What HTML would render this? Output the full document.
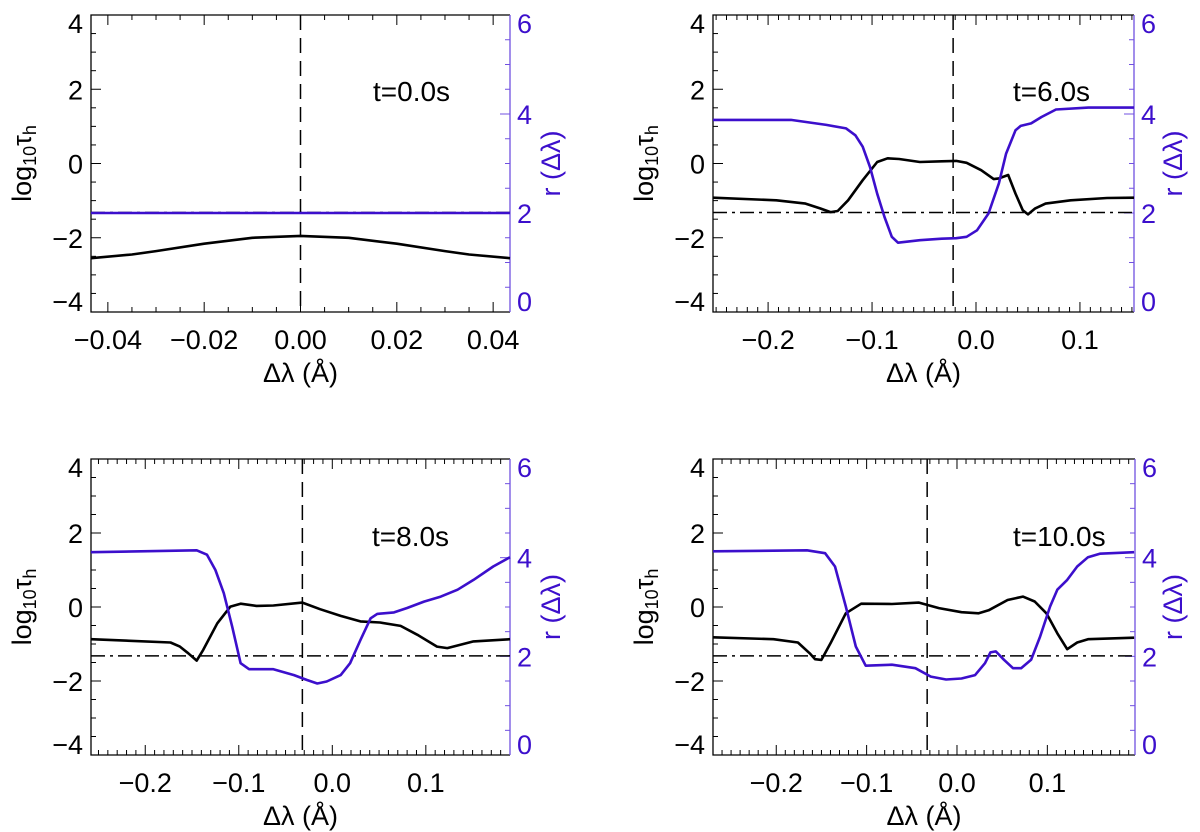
<!DOCTYPE html>
<html><head><meta charset="utf-8"><style>
html,body{margin:0;padding:0;background:#fff;}
svg{display:block;font-family:"Liberation Sans",sans-serif;}
</style></head><body>
<svg id="fig" width="1200" height="832" viewBox="0 0 1200 832"></svg>
<script>
const NS="http://www.w3.org/2000/svg";
const PURPLE="#3c0fcc";
// Panel 1 (t=0.0s)
const p1X=[-0.0435,-0.035,-0.03,-0.02,-0.01,0,0.01,0.02,0.03,0.035,0.0435];
const p1Tau=[-2.55,-2.45,-2.36,-2.16,-2.0,-1.95,-2.0,-2.16,-2.36,-2.45,-2.55];
const p1RX=[-0.0435,0.0435];
const p1R=[2.0,2.0];
// Panel 2 (t=6.0s)
const p2X=[-0.253,-0.192,-0.164,-0.150,-0.140,-0.133,-0.123,-0.109,-0.095,-0.085,-0.074,-0.054,-0.033,-0.019,-0.009,0.005,0.017,0.022,0.031,0.038,0.045,0.050,0.057,0.067,0.091,0.126,0.152];
const p2Tau=[-0.92,-0.99,-1.08,-1.21,-1.31,-1.28,-0.99,-0.45,0.04,0.14,0.12,0.04,0.06,0.07,0.02,-0.18,-0.42,-0.40,-0.31,-0.81,-1.26,-1.37,-1.21,-1.08,-0.99,-0.93,-0.92];
const p2RX=[-0.253,-0.178,-0.144,-0.125,-0.116,-0.109,-0.102,-0.095,-0.088,-0.081,-0.075,-0.054,-0.033,-0.019,-0.009,0.001,0.012,0.022,0.029,0.038,0.043,0.053,0.063,0.077,0.108,0.152];
const p2R=[3.88,3.88,3.78,3.71,3.57,3.34,2.93,2.39,1.92,1.52,1.40,1.45,1.48,1.49,1.52,1.65,1.99,2.60,3.20,3.67,3.76,3.81,3.94,4.09,4.13,4.13];
// Panel 3 (t=8.0s)
const p3X=[-0.258,-0.173,-0.163,-0.154,-0.145,-0.138,-0.123,-0.109,-0.098,-0.081,-0.063,-0.032,-0.013,0.009,0.030,0.051,0.073,0.091,0.112,0.123,0.137,0.151,0.190];
const p3Tau=[-0.87,-0.96,-1.07,-1.25,-1.45,-1.16,-0.44,0.01,0.09,0.03,0.04,0.12,-0.06,-0.24,-0.39,-0.42,-0.51,-0.75,-1.07,-1.11,-1.02,-0.93,-0.87];
const p3RX=[-0.258,-0.145,-0.134,-0.125,-0.116,-0.107,-0.098,-0.089,-0.063,-0.041,-0.027,-0.016,-0.006,0.009,0.019,0.030,0.041,0.048,0.066,0.080,0.098,0.116,0.134,0.151,0.172,0.190];
const p3R=[4.11,4.15,4.06,3.75,3.28,2.60,1.86,1.74,1.74,1.62,1.52,1.45,1.49,1.62,1.86,2.33,2.77,2.86,2.89,2.98,3.11,3.21,3.35,3.55,3.82,4.01];
// Panel 4 (t=10.0s)
const p4X=[-0.270,-0.203,-0.176,-0.163,-0.157,-0.150,-0.140,-0.123,-0.106,-0.072,-0.042,-0.020,0.005,0.024,0.035,0.056,0.073,0.086,0.099,0.111,0.122,0.133,0.145,0.196];
const p4Tau=[-0.82,-0.87,-0.96,-1.25,-1.41,-1.43,-0.98,-0.17,0.09,0.08,0.12,-0.03,-0.14,-0.17,-0.09,0.19,0.28,0.15,-0.17,-0.71,-1.14,-0.96,-0.87,-0.83];
const p4RX=[-0.270,-0.166,-0.146,-0.135,-0.123,-0.112,-0.101,-0.072,-0.046,-0.029,-0.012,0.005,0.020,0.031,0.037,0.043,0.052,0.062,0.071,0.082,0.092,0.103,0.111,0.122,0.133,0.145,0.158,0.196];
const p4R=[4.13,4.15,4.09,3.82,3.01,2.20,1.81,1.83,1.76,1.59,1.53,1.55,1.62,1.86,2.08,2.10,1.93,1.76,1.76,1.93,2.40,3.01,3.35,3.55,3.82,4.01,4.08,4.11];
const xTicks1=[-0.04,-0.02,0,0.02,0.04];
const xTickLabels1=["\u22120.04","\u22120.02","0.00","0.02","0.04"];
const xTicks2=[-0.2,-0.1,0,0.1];
const xTickLabels2=["\u22120.2","\u22120.1","0.0","0.1"];
const yTicks=[-4,-2,0,2,4];
const yTickLabels=["\u22124","\u22122","0","2","4"];
const rTicks=[0,2,4,6];
const rTickLabels=["0","2","4","6"];
const thresholdLevel=-1.32;

const panels=[
 {id:"t0",L:91,R:510,T:15,B:312,xmin:-0.0435,xmax:0.0435,minor:0.005,xt:xTicks1,xl:xTickLabels1,vline:0,label:"t=0.0s",lx:373,ly:101,x:p1X,tau:p1Tau,rx:p1RX,r:p1R,rt:560},
 {id:"t6",L:713,R:1134,T:15,B:312,xmin:-0.253,xmax:0.152,minor:0.01,xt:xTicks2,xl:xTickLabels2,vline:-0.022,label:"t=6.0s",lx:1013,ly:101,x:p2X,tau:p2Tau,rx:p2RX,r:p2R,rt:1182},
 {id:"t8",L:91,R:510,T:459,B:755,xmin:-0.258,xmax:0.190,minor:0.01,xt:xTicks2,xl:xTickLabels2,vline:-0.032,label:"t=8.0s",lx:372,ly:546,x:p3X,tau:p3Tau,rx:p3RX,r:p3R,rt:560},
 {id:"t10",L:713,R:1135,T:459,B:755,xmin:-0.270,xmax:0.197,minor:0.01,xt:xTicks2,xl:xTickLabels2,vline:-0.033,label:"t=10.0s",lx:1013,ly:546,x:p4X,tau:p4Tau,rx:p4RX,r:p4R,rt:1182}
];
const svg=document.getElementById("fig");
function mk(tag,attrs,parent){const e=document.createElementNS(NS,tag);for(const k in attrs)e.setAttribute(k,attrs[k]);(parent||svg).appendChild(e);return e;}

panels.forEach(p=>{
  const g=mk("g",{});
  
  
  const sx=v=>p.L+(v-p.xmin)/(p.xmax-p.xmin)*(p.R-p.L);
  const sy=v=>p.T+(4-v)/8*(p.B-p.T);
  const sr=v=>p.B-v/6*(p.B-p.T);
  const n0=Math.ceil(p.xmin/p.minor-1e-6), n1=Math.floor(p.xmax/p.minor+1e-6);
  for(let i=n0;i<=n1;i++){const v=i*p.minor;const X=sx(v);
    const major=p.xt.some(t=>Math.abs(t-v)<1e-9);const len=major?10:5;
    const t1=mk("line",{x1:X,x2:X,y1:p.B,y2:p.B-len,stroke:"#000","stroke-width":1},g);
    
    
    const t2=mk("line",{x1:X,x2:X,y1:p.T,y2:p.T+len,stroke:"#000","stroke-width":1},g);
    
    }
  p.xt.forEach((v,i)=>{const t=mk("text",{x:sx(v),y:p.B+37,"font-size":27,"text-anchor":"middle"},g);t.textContent=p.xl[i];
    
    });
  for(let v=-4;v<=4.001;v+=0.5){const Y=sy(v);const len=(Math.abs(v%2)<1e-6)?10:5;
    const t=mk("line",{x1:p.L,x2:p.L+len,y1:Y,y2:Y,stroke:"#000","stroke-width":1},g);
    
    }
  yTicks.forEach((v,i)=>{let Y=sy(v)+10;if(v===4)Y=p.T+18;if(v===-4)Y=p.B-1;
    const t=mk("text",{x:p.L-8,y:Y,"font-size":27,"text-anchor":"end"},g);t.textContent=yTickLabels[i];
    
    });
  for(let v=0;v<=6.001;v+=0.5){const Y=sr(v);const len=(Math.abs(v%2)<1e-6)?10:5;
    const t=mk("line",{x1:p.R,x2:p.R-len,y1:Y,y2:Y,stroke:"#7050e0","stroke-width":1},g);
    
    }
  rTicks.forEach((v,i)=>{let Y=sr(v)+10;if(v===6)Y=p.T+18;if(v===0)Y=p.B-1;
    const t=mk("text",{x:p.R+7,y:Y,"font-size":27,fill:PURPLE},g);t.textContent=rTickLabels[i];
    
    });
  const ax=mk("path",{d:`M${p.R},${p.T}H${p.L}V${p.B}H${p.R}`,fill:"none",stroke:"#000","stroke-width":1.3},g);
  
  
  const ra=mk("line",{x1:p.R,x2:p.R,y1:p.T,y2:p.B,stroke:"#7050e0","stroke-width":1.3},g);
  
  
  const vl=mk("line",{x1:sx(p.vline),x2:sx(p.vline),y1:p.T,y2:p.B,stroke:"#000","stroke-width":1.5,"stroke-dasharray":"15,8"},g);
  
  
  const hl=mk("line",{x1:p.L,x2:p.R,y1:sy(thresholdLevel),y2:sy(thresholdLevel),stroke:"#000","stroke-width":1.5,"stroke-dasharray":"14,5,3,5"},g);
  
  
  const tauPts=p.x.map((v,i)=>sx(v).toFixed(1)+","+sy(p.tau[i]).toFixed(1)).join(" ");
  const tl=mk("polyline",{points:tauPts,fill:"none",stroke:"#000","stroke-width":2.6,"stroke-linejoin":"round"},g);
  
  
  const rPts=p.rx.map((v,i)=>sx(v).toFixed(1)+","+sr(p.r[i]).toFixed(1)).join(" ");
  const rl=mk("polyline",{points:rPts,fill:"none",stroke:PURPLE,"stroke-width":2.6,"stroke-linejoin":"round"},g);
  
  
  const lb=mk("text",{x:p.lx,y:p.ly,"font-size":28},g);lb.textContent=p.label;
  
  
  const cy=(p.T+p.B)/2, cx=(p.L+p.R)/2;
  const xt=mk("text",{x:cx,y:p.B+70,"font-size":27,"text-anchor":"middle"},g);xt.textContent="\u0394\u03bb (\u00c5)";
  
  
  const yx=p.L-60;
  const yt=mk("text",{x:0,y:0,"font-size":27,"text-anchor":"middle",transform:`translate(${yx},${cy}) rotate(-90)`},g);
  yt.innerHTML='log<tspan font-size="18" dy="5">10</tspan><tspan dy="-5">\u03c4</tspan><tspan font-size="18" dy="5">h</tspan>';
  
  
  const rtt=mk("text",{x:0,y:0,"font-size":27,"text-anchor":"middle",fill:PURPLE,transform:`translate(${p.rt},${cy}) rotate(-90)`},g);
  rtt.textContent="r (\u0394\u03bb)";
  
  
});
</script>
</body></html>
